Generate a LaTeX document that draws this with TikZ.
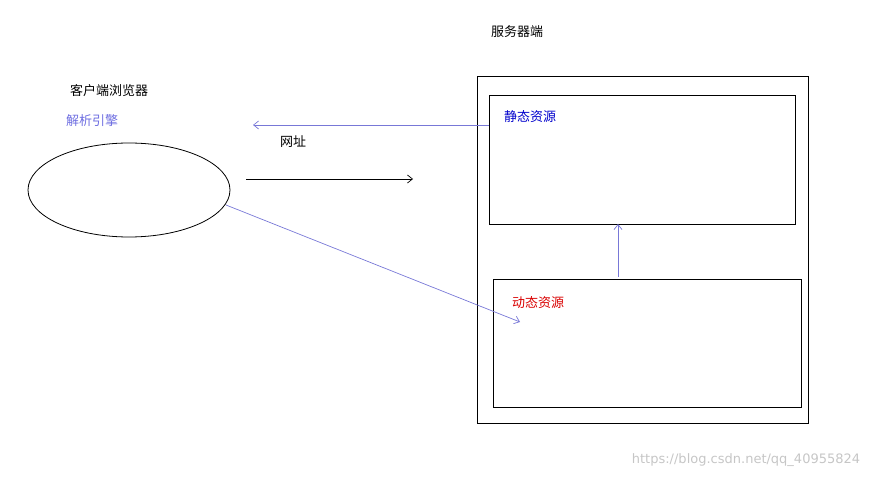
\documentclass[tikz,border=0pt]{standalone}
\usepackage{fontspec}
\setmainfont{Noto Sans CJK SC}
\setsansfont{DejaVu Sans}
\usetikzlibrary{arrows.meta,shapes.geometric}
\definecolor{engine}{RGB}{110,110,225}
\definecolor{link}{RGB}{120,120,215}
\begin{document}
\begin{tikzpicture}[x=1pt,y=-1pt,>={Straight Barb[length=5pt,width=8pt]},
		thick,box/.style={draw,line width=0.8pt},
		label text/.style={font=\fontsize{13}{15}\selectfont}]
		\useasboundingbox (0,0) rectangle (878,478);
		% 服务器端
		\node[label text] (server) at (517,32) {服务器端};
		\draw[box] (477,76) rectangle (808,423);
		\draw[box] (489,95) rectangle (795,224);
		\draw[box] (493,279) rectangle (801,407);
		\node[label text,text=blue!80!black] (static) at (530,117) {静态资源};
		\node[label text,text=red!85!black] (dynamic) at (538,303) {动态资源};
		\coordinate (s-in) at (489,125);
		\coordinate (s-bot) at (618,224);
		\coordinate (d-top) at (618,277);
		\coordinate (d-in) at (520,322);
		% 客户端
		\node[label text] (client) at (109,91) {客户端浏览器};
		\node[label text,text=engine] (engine) at (92,121) {解析引擎};
		\node[draw,ellipse,line width=0.8pt,minimum width=202pt,minimum height=94pt] (browser) at (129,190) {};
		\node[label text] (url) at (293,142) {网址};
		\coordinate (u-from) at (246,179);
		\coordinate (u-to) at (413,179);
		\coordinate (back) at (253,125);
		\coordinate (b-out) at (226,205);
		% 连线
		\draw[->,line width=0.7pt] (u-from) -- (u-to);
		\draw[->,link,line width=0.7pt] (s-in) -- (back);
		\draw[->,link,line width=0.7pt] (b-out) -- (d-in);
		\draw[->,link,line width=0.7pt] (d-top) -- (s-bot);
		\node[text=gray!45,font=\fontsize{13}{15}\selectfont\sffamily] (mark) at (746,460) {https://blog.csdn.net/qq\_40955824};
\end{tikzpicture}
\end{document}
